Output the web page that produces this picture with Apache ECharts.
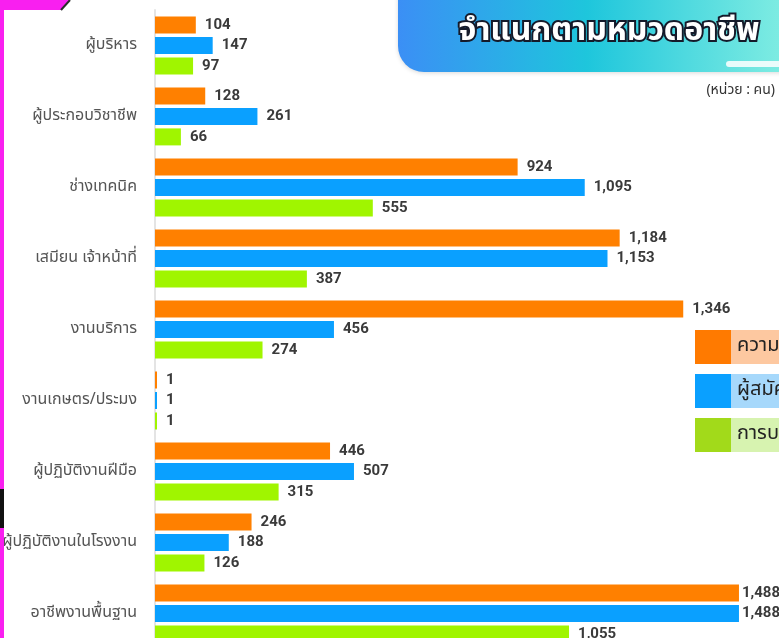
<!DOCTYPE html>
<html>
<head>
<meta charset="utf-8">
<script src="https://cdn.jsdelivr.net/npm/echarts@6/dist/echarts.min.js"></script>
<style>
  html, body { margin: 0; padding: 0; background: #fff; }
  #chart { width: 779px; height: 638px; }
</style>
</head>
<body>
<div id="chart"></div>
<script>
const categories = ['ผู้บริหาร', 'ผู้ประกอบวิชาชีพ', 'ช่างเทคนิค', 'เสมียน เจ้าหน้าที่', 'งานบริการ',
  'งานเกษตร/ประมง', 'ผู้ปฏิบัติงานฝีมือ', 'ผู้ปฏิบัติงานในโรงงาน', 'อาชีพงานพื้นฐาน'];
const demand = [104, 128, 924, 1184, 1346, 1, 446, 246, 1488];
const applicants = [147, 261, 1095, 1153, 456, 1, 507, 188, 1488];
const placement = [97, 66, 555, 387, 274, 1, 315, 126, 1055];
const seriesNames = ['ความต้องการแรงงาน', 'ผู้สมัครงาน', 'การบรรจุงาน'];

const barColors = ['#ff8000', '#0aa0ff', '#a0f500'];
const keyColors = ['#ff7a00', '#0aa0ff', '#a2da1a'];
const keyLight = ['#fdc8a0', '#a6d8fb', '#d7f3b0'];
const thaiFont = "'Noto Sans Thai', 'Noto Sans Thai UI', Loma, Garuda, 'Tlwg Typo', Sarabun, 'Noto Sans', sans-serif";

const xMax = 1590;
const plotLeft = 155;
const plotW = 624;

const chart = echarts.init(document.getElementById('chart'));

// labels that would run off the right edge sit closer to the bar
function barData(vals) {
  return vals.map(v => (plotLeft + v / xMax * plotW + 48 > 779) ? { value: v, label: { distance: 3 } } : v);
}

const rich = {};
keyColors.forEach((c, i) => {
  rich['s' + i] = { backgroundColor: c, width: 36, height: 34 };
  rich['t' + i] = {
    backgroundColor: keyLight[i], height: 34, padding: [0, 80, 0, 6],
    fontSize: 20, color: '#222', fontFamily: thaiFont
  };
});

const option = {
  animation: false,
  backgroundColor: '#fff',
  grid: { left: plotLeft, top: 10, width: plotW, height: 639, outerBoundsMode: 'none' },
  xAxis: {
    type: 'value', min: 0, max: xMax, show: false,
    splitLine: { show: false }
  },
  yAxis: {
    type: 'category', data: categories, inverse: true,
    axisLine: { show: true, lineStyle: { color: '#e4e4e4', width: 2 } },
    axisTick: { show: false },
    axisLabel: { color: '#555', fontSize: 16, margin: 18, fontFamily: thaiFont }
  },
  legend: {
    orient: 'vertical', left: 690, top: 330, itemGap: 10, padding: 0,
    icon: 'rect', itemWidth: 0, itemHeight: 0,
    data: seriesNames,
    formatter: name => {
      const i = seriesNames.indexOf(name);
      return '{s' + i + '|}{t' + i + '|' + name + '}';
    },
    textStyle: { rich: rich }
  },
  series: [demand, applicants, placement].map((vals, i) => ({
    name: seriesNames[i],
    type: 'bar',
    data: barData(vals),
    barWidth: 17,
    barGap: '20%',
    barMinHeight: 2,
    itemStyle: { color: barColors[i] },
    label: {
      show: true, position: 'right', distance: 9,
      color: '#3a3a3a', fontSize: 15, fontWeight: 'bold', fontFamily: 'Roboto, sans-serif',
      formatter: p => p.value.toLocaleString('en-US')
    }
  })),
  graphic: [
    // magenta frame pieces on the left
    { type: 'polygon', z: 10, shape: { points: [[0, 0], [70, 0], [61, 10], [4, 10], [4, 638], [0, 638]] },
      style: { fill: '#f91ff0' } },
    { type: 'polyline', z: 10, shape: { points: [[70, 0], [61, 10]] },
      style: { stroke: '#2a2a2a', lineWidth: 2 } },
    { type: 'rect', z: 10, shape: { x: 0, y: 489, width: 4, height: 39 }, style: { fill: '#111' } },
    // title banner
    { type: 'rect', z: 10, shape: { x: 398, y: -40, width: 420, height: 112, r: [0, 0, 0, 26] },
      style: {
        fill: new echarts.graphic.LinearGradient(0, 0, 1, 0, [
          { offset: 0, color: '#3b8ff5' }, { offset: 0.45, color: '#1ec6dc' }, { offset: 1, color: '#90f3e3' }
        ]),
        shadowBlur: 4, shadowColor: 'rgba(0,0,0,0.15)', shadowOffsetY: 1
      } },
    { type: 'rect', z: 11, shape: { x: 726, y: 61, width: 70, height: 6, r: 3 },
      style: { fill: 'rgba(255,255,255,0.85)' } },
    { type: 'text', z: 12, x: 609, y: 34,
      style: {
        text: 'จำแนกตามหมวดอาชีพ', align: 'center', verticalAlign: 'middle',
        font: 'bold 32px ' + thaiFont, fill: '#fff', stroke: '#151a2a', lineWidth: 4
      } },
    { type: 'text', z: 12, x: 775, y: 91,
      style: {
        text: '(หน่วย : คน)', align: 'right', verticalAlign: 'middle',
        font: '14px ' + thaiFont, fill: '#333'
      } }
  ]
};

chart.setOption(option);
</script>
</body>
</html>
